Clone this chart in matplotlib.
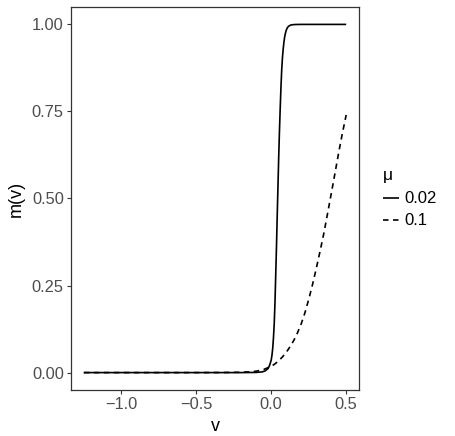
import matplotlib
matplotlib.use("Agg")
import matplotlib.pyplot as plt

# data
v_solid = [-1.25, -0.5, -0.2, -0.1, -0.06, -0.04, -0.02, -0.01, 0.0, 0.005, 0.01, 0.015,
           0.02, 0.025, 0.03, 0.035, 0.04, 0.045, 0.05, 0.055, 0.06, 0.065, 0.07, 0.075,
           0.08, 0.085, 0.09, 0.095, 0.10, 0.105, 0.11, 0.115, 0.12, 0.13, 0.14, 0.16,
           0.20, 0.30, 0.5]
m_solid = [0.0, 0.0, 0.0, 0.0005, 0.002, 0.005, 0.012, 0.022, 0.036, 0.05, 0.07, 0.1,
           0.14, 0.2, 0.28, 0.36, 0.45, 0.535, 0.62, 0.695, 0.76, 0.82, 0.87, 0.905,
           0.93, 0.95, 0.965, 0.975, 0.983, 0.988, 0.992, 0.994, 0.996, 0.998, 0.999, 0.9997,
           1.0, 1.0, 1.0]

v_dash = [-1.25, -0.5, -0.3, -0.2, -0.15, -0.1, -0.05, 0.0, 0.025, 0.05, 0.075, 0.1,
          0.125, 0.15, 0.175, 0.2, 0.225, 0.25, 0.275, 0.3, 0.325, 0.35, 0.375, 0.4,
          0.425, 0.45, 0.475, 0.5]
m_dash = [0.0, 0.0, 0.0003, 0.001, 0.002, 0.004, 0.009, 0.018, 0.025, 0.034, 0.045, 0.058,
          0.074, 0.092, 0.114, 0.14, 0.172, 0.21, 0.252, 0.298, 0.347, 0.398, 0.455, 0.513,
          0.572, 0.632, 0.688, 0.74]

series_labels = ["0.02", "0.1"]
legend_title = "\u03bc"
x_ticks = [-1.0, -0.5, 0.0, 0.5]
x_ticklabels = ["\u22121.0", "\u22120.5", "0.0", "0.5"]
y_ticks = [0.0, 0.25, 0.5, 0.75, 1.0]
y_ticklabels = ["0.00", "0.25", "0.50", "0.75", "1.00"]

plt.rcParams['font.family'] = ['Liberation Sans', 'DejaVu Sans']

fig = plt.figure(figsize=(4.55, 4.36), dpi=100)
ax = fig.add_axes([70.7/455, 1-390/436, (359.3-70.7)/455, (390-7)/436])

ax.plot(v_solid, m_solid, color='black', lw=1.2, solid_capstyle='butt', label=series_labels[0])
ax.plot(v_dash, m_dash, color='black', lw=1.2, dashes=(3.3, 2.7), label=series_labels[1])

ax.set_xlim(-1.3375, 0.5875)
ax.set_ylim(-0.05, 1.05)
ax.set_xticks(x_ticks)
ax.set_xticklabels(x_ticklabels)
ax.set_yticks(y_ticks)
ax.set_yticklabels(y_ticklabels)
ax.tick_params(axis='both', colors='#333333', labelcolor='#4D4D4D', labelsize=11.8,
               length=3, width=0.8, pad=2)
for s in ax.spines.values():
    s.set_color('#333333')
    s.set_linewidth(0.9)

ax.set_xlabel('v', fontsize=13, color='black', labelpad=4)
ax.set_ylabel('m(v)', fontsize=13, color='black', labelpad=5)

leg = ax.legend(title=legend_title, frameon=False, loc='upper left',
                bbox_to_anchor=(1.06, 0.597), fontsize=12, title_fontsize=12.5,
                handlelength=0.95, handletextpad=0.3, labelspacing=0.42,
                borderaxespad=0.0)
leg._legend_box.align = "left"
leg._legend_box.sep = 6

fig.savefig('out.png', dpi=100)
